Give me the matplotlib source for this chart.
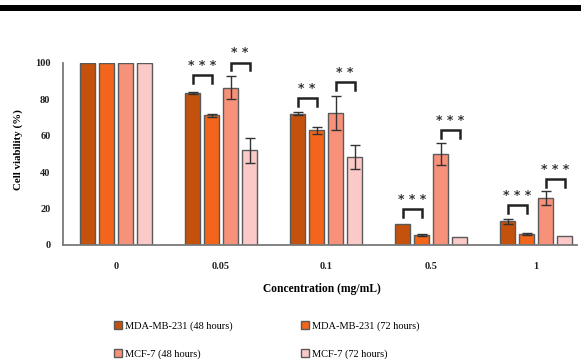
import matplotlib.pyplot as plt
import numpy as np
from matplotlib.patches import Rectangle

plt.rcParams['font.family'] = ['Liberation Serif', 'DejaVu Serif']

concentrations = ['0', '0.05', '0.1', '0.5', '1']
series = ['MDA-MB-231 (48 hours)', 'MDA-MB-231 (72 hours)', 'MCF-7 (48 hours)', 'MCF-7 (72 hours)']
colors = ['#c4520c', '#f2651a', '#f8917a', '#fcc9c9']

mda_48 = [100, 83.5, 72.2, 11.5, 13.0]
mda_72 = [100, 71.3, 63.0, 5.5, 6.2]
mcf_48 = [100, 86.4, 72.7, 50.2, 25.8]
mcf_72 = [100, 52.0, 48.3, 4.3, 4.9]

mda_48_err = [0, 0.5, 1.0, 0, 1.2]
mda_72_err = [0, 0.8, 1.8, 0.5, 0.5]
mcf_48_err = [0, 6.3, 9.3, 6.0, 4.0]
mcf_72_err = [0, 6.9, 6.4, 0, 0]

# significance brackets: (group, first bar, second bar, label, bracket top)
brackets = [
    (1, 0, 1, '* * *', 93.4),
    (1, 2, 3, '* *', 100.2),
    (2, 0, 1, '* *', 80.6),
    (2, 2, 3, '* *', 89.4),
    (3, 0, 1, '* * *', 19.6),
    (3, 2, 3, '* * *', 63.2),
    (4, 0, 1, '* * *', 22.0),
    (4, 2, 3, '* * *', 36.3),
]

values = [mda_48, mda_72, mcf_48, mcf_72]
errors = [mda_48_err, mda_72_err, mcf_48_err, mcf_72_err]

fig = plt.figure(figsize=(5.81, 3.59), dpi=100)
fig.add_artist(Rectangle((0, 1 - 10.5 / 359), 1, 5 / 359, transform=fig.transFigure,
                         color='black', lw=0))

ax = fig.add_axes([63 / 581, 1 - 245 / 359, 514 / 581, 182 / 359])

x = np.arange(len(concentrations))
step = 0.181
width = 0.143
offsets = (np.arange(4) - 1.5) * step

for i in range(4):
    ax.bar(x + offsets[i], values[i], width, color=colors[i], edgecolor='#5a5a5a',
           linewidth=1, label=series[i], zorder=2)
    err = np.array(errors[i])
    mask = err > 0
    ax.errorbar((x + offsets[i])[mask], np.array(values[i])[mask], yerr=err[mask],
                fmt='none', ecolor='#333333', elinewidth=1, capsize=3.5, capthick=1, zorder=3)

leg_drop = 4.2
for g, a, b, label, top in brackets:
    x0 = g + offsets[a]
    x1 = g + offsets[b]
    ax.plot([x0, x0, x1, x1], [top - leg_drop, top, top, top - leg_drop], color='#222222',
            lw=1.8, clip_on=False, solid_joinstyle='miter', zorder=4)
    ax.text((x0 + x1) / 2, top + 1.8, label, ha='center', va='bottom', fontsize=9,
            fontweight='bold', color='#333333', family='DejaVu Sans', clip_on=False)

ax.set_xlim(-0.505, 4.39)
ax.set_ylim(0, 100)
ax.set_yticks(range(0, 101, 20))
ax.set_xticks(x)
ax.set_xticklabels(concentrations)
ax.tick_params(axis='both', length=0, labelsize=7.5, colors='#222222')
ax.tick_params(axis='x', pad=12)
ax.tick_params(axis='y', pad=9)
for lab in ax.get_xticklabels() + ax.get_yticklabels():
    lab.set_fontweight('bold')

for s in ['top', 'right']:
    ax.spines[s].set_visible(False)
for s in ['left', 'bottom']:
    ax.spines[s].set_color('#7a7a7a')
    ax.spines[s].set_linewidth(1.3)

fig.text(18 / 581, 1 - 150 / 359, 'Cell viability (%)', rotation=90, ha='center', va='center',
         fontsize=7.8, fontweight='bold')
fig.text(322 / 581, 1 - 289 / 359, 'Concentration (mg/mL)', ha='center', va='center',
         fontsize=8.3, fontweight='bold')

handles, labels = ax.get_legend_handles_labels()
order = [0, 2, 1, 3]
fig.legend([handles[k] for k in order], [labels[k] for k in order], ncol=2,
           loc='upper left', bbox_to_anchor=(114 / 581, 1 - 321 / 359), frameon=False,
           fontsize=7.5, handlelength=0.75, handleheight=0.75, handletextpad=0.3,
           columnspacing=6.6, labelspacing=1.75, borderaxespad=0, borderpad=0)

fig.savefig('out.png', dpi=100)
